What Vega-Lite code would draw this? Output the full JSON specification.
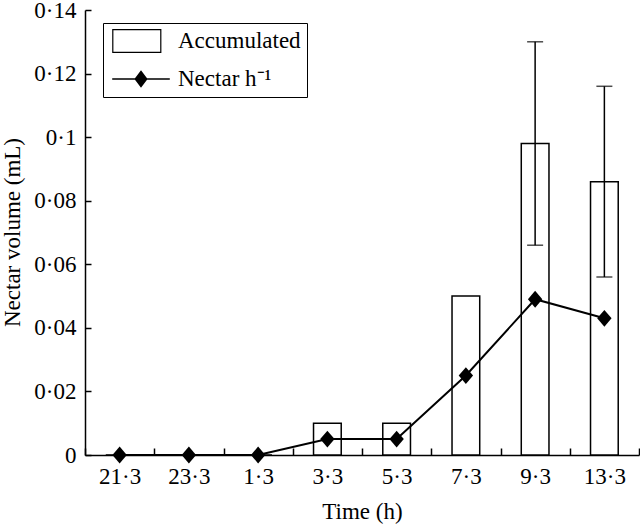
{
  "$schema": "https://vega.github.io/schema/vega-lite/v6.json",
  "width": 554,
  "height": 445,
  "autosize": "none",
  "padding": {"left": 85, "top": 10, "right": 1, "bottom": 69},
  "background": "white",
  "config": {
    "font": "Liberation Serif",
    "view": {"stroke": null},
    "axis": {
      "domainColor": "black",
      "domainWidth": 1.5,
      "tickColor": "black",
      "tickWidth": 1.5,
      "labelColor": "black",
      "titleColor": "black",
      "labelFont": "Liberation Serif",
      "titleFont": "Liberation Serif",
      "labelFontSize": 23,
      "titleFontSize": 23,
      "titleFontWeight": "normal",
      "grid": false
    },
    "legend": {
      "labelFont": "Liberation Serif",
      "labelFontSize": 23,
      "labelColor": "black"
    }
  },
  "data": {
    "values": [
      {"time": "21·3", "accumulated": 0, "nectar": 0, "lo": null, "hi": null},
      {"time": "23·3", "accumulated": 0, "nectar": 0, "lo": null, "hi": null},
      {"time": "1·3", "accumulated": 0, "nectar": 0, "lo": null, "hi": null},
      {"time": "3·3", "accumulated": 0.01, "nectar": 0.005, "lo": null, "hi": null},
      {"time": "5·3", "accumulated": 0.01, "nectar": 0.005, "lo": null, "hi": null},
      {"time": "7·3", "accumulated": 0.05, "nectar": 0.025, "lo": null, "hi": null},
      {"time": "9·3", "accumulated": 0.098, "nectar": 0.049, "lo": 0.066, "hi": 0.13},
      {"time": "13·3", "accumulated": 0.086, "nectar": 0.043, "lo": 0.056, "hi": 0.116}
    ]
  },
  "encoding": {
    "x": {
      "field": "time",
      "type": "nominal",
      "sort": null,
      "scale": {"paddingInner": 0, "paddingOuter": 0},
      "axis": {
        "title": "Time (h)",
        "labelAngle": 0,
        "tickBand": "extent",
        "tickSize": -7,
        "labelPadding": 17,
        "titlePadding": 12
      }
    }
  },
  "layer": [
    {
      "mark": {"type": "bar", "width": {"band": 0.4}, "stroke": "black", "strokeWidth": 1.5, "fill": "white"},
      "encoding": {
        "y": {
          "field": "accumulated",
          "type": "quantitative",
          "title": "Nectar volume (mL)",
          "scale": {"domain": [0, 0.14], "nice": false},
          "axis": {
            "title": "Nectar volume (mL)",
            "values": [0, 0.02, 0.04, 0.06, 0.08, 0.1, 0.12, 0.14],
            "labelExpr": "replace(format(datum.value, '~g'), '.', '·')",
            "tickSize": -6,
            "labelPadding": 15,
            "titleX": -73,
            "titleY": 222,
            "titleAngle": 270,
            "titleAlign": "center",
            "titleBaseline": "middle"
          }
        }
      }
    },
    {
      "transform": [{"filter": "isValid(datum.lo)"}],
      "mark": {"type": "errorbar", "ticks": true, "size": 16, "thickness": 1.5, "color": "black"},
      "encoding": {
        "y": {"field": "lo", "type": "quantitative", "title": "Nectar volume (mL)"},
        "y2": {"field": "hi"}
      }
    },
    {
      "mark": {"type": "line", "color": "black", "strokeWidth": 2},
      "encoding": {
        "y": {"field": "nectar", "type": "quantitative", "title": "Nectar volume (mL)"}
      }
    },
    {
      "mark": {"type": "point", "filled": true, "opacity": 1, "color": "black", "size": 256, "shape": "M0,-1.05L0.9,0L0,1.05L-0.9,0Z"},
      "encoding": {
        "y": {"field": "nectar", "type": "quantitative", "title": "Nectar volume (mL)"}
      }
    },
    {
      "transform": [{"filter": "datum.accumulated > 1"}],
      "mark": {"type": "point", "filled": true, "opacity": 1, "color": "black", "size": 576},
      "encoding": {
        "y": {"field": "nectar", "type": "quantitative", "title": "Nectar volume (mL)"},
        "shape": {
          "datum": "Accumulated",
          "scale": {
            "domain": ["Accumulated", "Nectar h⁻¹"],
            "range": [
              "M-2.4,-1H1.7V1H-2.4ZM-2.3,-0.9V0.9H1.6V-0.9Z",
              "M-2.4,-0.07H2.4V0.07H-2.4ZM0,-0.72L0.55,0L0,0.72L-0.55,0Z"
            ]
          },
          "legend": {
            "title": null,
            "orient": "none",
            "legendX": 18,
            "legendY": 13,
            "padding": 6,
            "rowPadding": 14,
            "symbolSize": 576,
            "symbolOffset": 20,
            "labelOffset": 25,
            "symbolFillColor": "black",
            "symbolStrokeWidth": 0,
            "symbolOpacity": 1,
            "strokeColor": "black"
          }
        }
      }
    }
  ]
}
